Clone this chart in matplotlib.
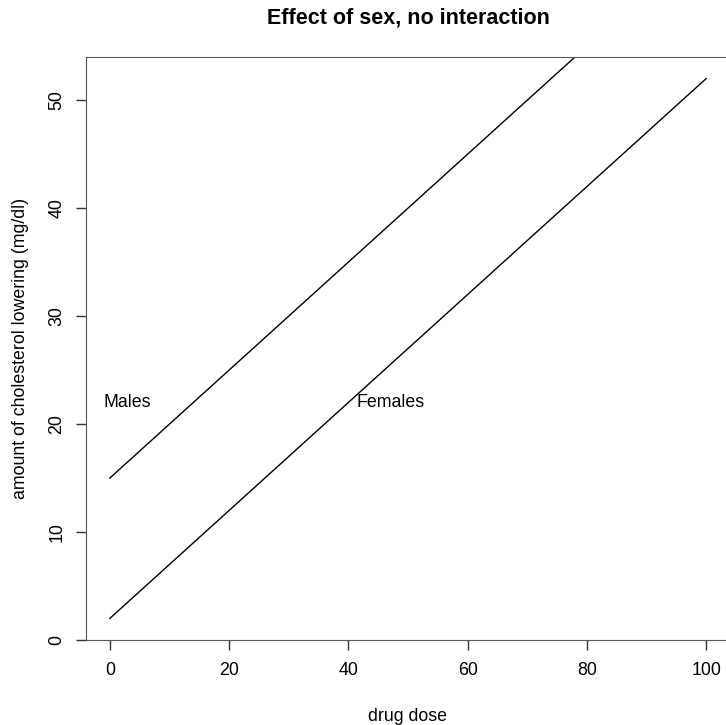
import matplotlib
matplotlib.use("Agg")
import matplotlib.pyplot as plt
import numpy as np

plt.rcParams['font.family'] = ['Liberation Sans', 'DejaVu Sans']

# dose range and the two fitted lines (same slope, different intercepts)
dose = [0, 100]
males = [15, 65]
females = [2, 52]
labels = ["Males", "Females"]
label_x = [3, 47]
label_y = [22, 22]
xticks = [0, 20, 40, 60, 80, 100]
yticks = [0, 10, 20, 30, 40, 50]

fig = plt.figure(figsize=(7.26, 7.25), dpi=100)
# plot box runs past the right edge of the image, as in the original
ax = fig.add_axes([86/726, 1 - 640/725, (730-86)/726, (640-57)/725])

ax.plot(dose, males, color='black', lw=1)
ax.plot(dose, females, color='black', lw=1)
for t, x, y in zip(labels, label_x, label_y):
    ax.text(x, y, t, ha='center', va='center', fontsize=12.8)

ax.set_xlim(-4, 104)
ax.set_ylim(0, 54)
ax.set_xticks(xticks)
ax.set_yticks(yticks)
ax.set_yticklabels([str(v) for v in yticks], rotation=90, va='center')
ax.tick_params(length=7, width=1, labelsize=12.8, color='#333333')
ax.tick_params(axis='x', pad=9)
ax.tick_params(axis='y', pad=8)
ax.spines['right'].set_visible(False)
for s in ax.spines.values():
    s.set_color('#555555')

ax.set_xlabel('drug dose', fontsize=12.8, labelpad=21)
ax.set_ylabel('amount of cholesterol lowering (mg/dl)', fontsize=12.8, labelpad=14)
fig.text(408/726, 1 - 18/725, 'Effect of sex, no interaction', ha='center', va='center',
         fontsize=15.5, fontweight='bold')

fig.savefig('out.png', dpi=100)
